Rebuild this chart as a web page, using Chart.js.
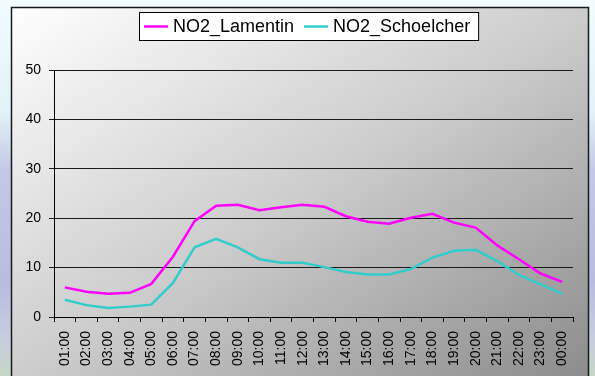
<!DOCTYPE html>
<html>
<head>
<meta charset="utf-8">
<script src="https://cdn.jsdelivr.net/npm/chart.js@4/dist/chart.umd.min.js"></script>
<style>
  html, body { margin: 0; padding: 0; background: #fff; }
  #wrap { width: 595px; height: 376px; position: relative; }
</style>
</head>
<body>
<div id="wrap"><canvas id="c" width="595" height="376"></canvas></div>
<script>
const categories = ["01:00","02:00","03:00","04:00","05:00","06:00","07:00","08:00","09:00","10:00","11:00","12:00",
                    "13:00","14:00","15:00","16:00","17:00","18:00","19:00","20:00","21:00","22:00","23:00","00:00"];
const lamentin = [6.0, 5.1, 4.7, 4.9, 6.7, 12.2, 19.4, 22.5, 22.7, 21.6, 22.2, 22.7,
                  22.3, 20.4, 19.3, 18.9, 20.1, 20.9, 19.1, 18.1, 14.5, 11.7, 8.8, 7.1];
const schoelcher = [3.5, 2.4, 1.8, 2.1, 2.5, 6.9, 14.1, 15.8, 14.1, 11.7, 11.0, 11.0,
                    10.1, 9.1, 8.6, 8.6, 9.7, 12.0, 13.4, 13.6, 11.3, 8.5, 6.6, 4.7];
const seriesNames = ["NO2_Lamentin", "NO2_Schoelcher"];
const yTicks = [0, 10, 20, 30, 40, 50];

const FONT = '"Liberation Sans", Arial, sans-serif';

const backgroundPlugin = {
  id: 'bg',
  beforeDraw(chart) {
    const ctx = chart.ctx;
    const W = chart.width, H = chart.height;
    ctx.save();
    // outer photo-like backdrop
    const og = ctx.createLinearGradient(0, 0, 0, H);
    og.addColorStop(0, '#f2fcff');
    og.addColorStop(0.3, '#e2f2f8');
    og.addColorStop(0.45, '#c4c8e6');
    og.addColorStop(0.75, '#b8bcdf');
    og.addColorStop(0.9, '#c8ccdf');
    og.addColorStop(1, '#c6d6c6');
    ctx.fillStyle = og;
    ctx.fillRect(0, 0, W, H);
    // chart frame with diagonal grey gradient (top-right and bottom-left equal)
    const fx = 11, fy = 7, fw = 578, fh = H + 10;
    const g = ctx.createLinearGradient(fx, fy, fx + 335, fy + 524);
    g.addColorStop(0, '#ffffff');
    g.addColorStop(0.5, '#cdcdcd');
    g.addColorStop(1, '#8c8c8c');
    ctx.fillStyle = g;
    ctx.fillRect(fx, fy, fw, fh);
    ctx.strokeStyle = '#1a1a1a';
    ctx.lineWidth = 1.5;
    ctx.strokeRect(fx + 0.5, fy + 0.5, fw - 1, fh);
    ctx.restore();
  },
  afterDraw(chart) {
    // legend box
    const ctx = chart.ctx;
    ctx.save();
    const left = 139, top = 12, height = 28;
    ctx.font = '18px ' + FONT;
    const items = chart.data.datasets.map(ds => ({ label: ds.label, color: ds.borderColor, w: ctx.measureText(ds.label).width }));
    const padL = 5, lineLen = 24, gap = 5, itemGap = 10, padR = 8;
    let total = padL + padR;
    items.forEach((it, i) => { total += lineLen + gap + it.w + (i < items.length - 1 ? itemGap : 0); });
    ctx.fillStyle = '#ffffff';
    ctx.fillRect(left, top, total, height);
    ctx.strokeStyle = '#000';
    ctx.lineWidth = 1;
    ctx.strokeRect(left + 0.5, top + 0.5, total, height);
    let x = left + padL;
    const cy = top + height / 2 + 0.5;
    items.forEach(it => {
      ctx.strokeStyle = it.color;
      ctx.lineWidth = 2.5;
      ctx.beginPath();
      ctx.moveTo(x, cy);
      ctx.lineTo(x + lineLen, cy);
      ctx.stroke();
      x += lineLen + gap;
      ctx.fillStyle = '#000';
      ctx.textBaseline = 'middle';
      ctx.textAlign = 'left';
      ctx.fillText(it.label, x, cy + 1);
      x += it.w + itemGap;
    });
    ctx.restore();
  }
};

new Chart(document.getElementById('c'), {
  type: 'line',
  data: {
    labels: categories,
    datasets: [
      { label: seriesNames[0], data: lamentin, borderColor: '#ff00ff', backgroundColor: '#ff00ff',
        borderWidth: 2.5, pointRadius: 0, tension: 0, fill: false },
      { label: seriesNames[1], data: schoelcher, borderColor: '#33cccc', backgroundColor: '#33cccc',
        borderWidth: 2.5, pointRadius: 0, tension: 0, fill: false }
    ]
  },
  options: {
    responsive: false,
    animation: false,
    devicePixelRatio: 1,
    layout: { padding: { top: 70, right: 22, left: 0, bottom: 0 } },
    plugins: { legend: { display: false }, tooltip: { enabled: false } },
    scales: {
      x: {
        offset: true,
        grid: { display: true, offset: true, drawOnChartArea: false, drawTicks: true, tickLength: 5, color: '#000', lineWidth: 1 },
        border: { display: true, color: '#000', width: 1 },
        ticks: { autoSkip: false, minRotation: 90, maxRotation: 90, padding: 9, color: '#000',
                 font: { family: FONT, size: 14 } },
        afterFit(scale) { scale.height = 59; }
      },
      y: {
        min: 0, max: 50,
        afterBuildTicks(scale) { scale.ticks = yTicks.map(v => ({ value: v })); },
        grid: { display: true, drawTicks: true, tickLength: 5, color: '#1a1a1a', lineWidth: 1 },
        border: { display: true, color: '#000', width: 1 },
        ticks: { padding: 8, color: '#000', font: { family: FONT, size: 14 } },
        afterFit(scale) { scale.width = 54; }
      }
    }
  },
  plugins: [backgroundPlugin]
});
</script>
</body>
</html>
